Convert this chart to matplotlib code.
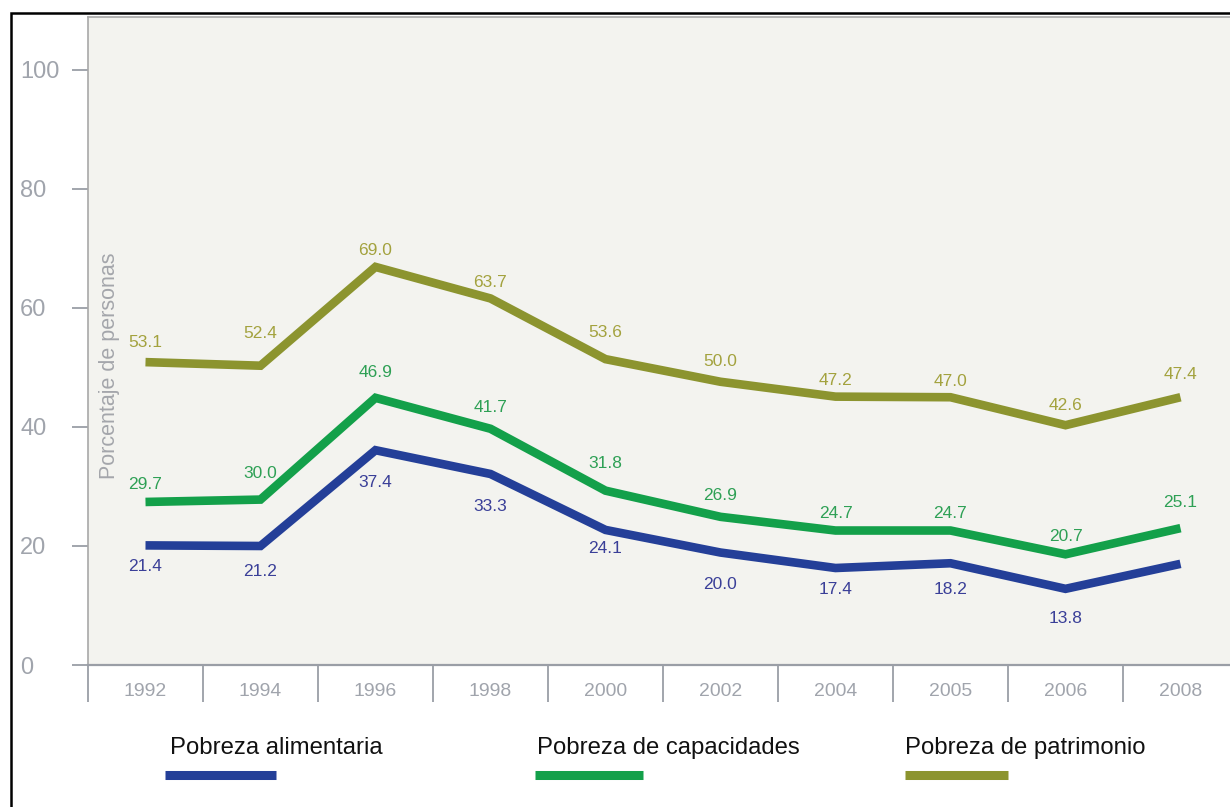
import numpy as np
import matplotlib
matplotlib.use("Agg")
import matplotlib.pyplot as plt
from matplotlib import font_manager
from matplotlib.lines import Line2D
from matplotlib.patches import Rectangle

# ── datos ─────────────────────────────────────────────────────────────────────
anios = ["1992", "1994", "1996", "1998", "2000", "2002", "2004", "2005", "2006", "2008"]

# posicion de las lineas
alimentaria = [20.1, 20.0, 36.1, 32.1, 22.7, 18.9, 16.3, 17.1, 12.8, 17.0]
capacidades = [27.4, 27.8, 44.9, 39.7, 29.3, 24.9, 22.6, 22.6, 18.6, 23.0]
patrimonio = [50.9, 50.3, 66.9, 61.6, 51.4, 47.6, 45.1, 45.0, 40.3, 45.0]

# etiquetas publicadas
etq_alimentaria = ["21.4", "21.2", "37.4", "33.3", "24.1", "20.0", "17.4", "18.2", "13.8", None]
etq_capacidades = ["29.7", "30.0", "46.9", "41.7", "31.8", "26.9", "24.7", "24.7", "20.7", "25.1"]
etq_patrimonio = ["53.1", "52.4", "69.0", "63.7", "53.6", "50.0", "47.2", "47.0", "42.6", "47.4"]

# desplazamiento vertical de cada etiqueta (px, + arriba)
dy_alimentaria = [-21, -26, -32, -33, -19, -32, -21, -26, -30, 0]
dy_capacidades = [17, 26, 25, 21, 27, 21, 17, 17, 18, 26]
dy_patrimonio = [20, 32, 16, 16, 27, 20, 16, 16, 20, 23]

nombres = ["Pobreza alimentaria", "Pobreza de capacidades", "Pobreza de patrimonio"]

# ── estilo ────────────────────────────────────────────────────────────────────
C_AZUL, C_VERDE, C_OLIVO = "#243f98", "#13a04a", "#8c942f"
T_AZUL, T_VERDE, T_OLIVO = "#3a3f98", "#2ea055", "#a3a23e"
GRIS = "#9a9ea6"

nombres_fuentes = {f.name for f in font_manager.fontManager.ttflist}
hay_narrow = "Liberation Sans Narrow" in nombres_fuentes
F_REG = "Liberation Sans"
F_NAR = "Liberation Sans Narrow" if hay_narrow else "Liberation Sans"
k = 1.0 if hay_narrow else 0.82

W, H = 1230, 807
fig = plt.figure(figsize=(W / 100, H / 100), dpi=100)
fig.patch.set_facecolor("white")

x0, y0, x1, y1 = 88, 665, 1238, 17
ax = fig.add_axes([x0 / W, 1 - y0 / H, (x1 - x0) / W, (y0 - y1) / H])
ax.set_facecolor("#f3f3ef")

xs = np.arange(len(anios))
series = [
    (alimentaria, etq_alimentaria, dy_alimentaria, C_AZUL, T_AZUL),
    (capacidades, etq_capacidades, dy_capacidades, C_VERDE, T_VERDE),
    (patrimonio, etq_patrimonio, dy_patrimonio, C_OLIVO, T_OLIVO),
]
for vals, etqs, dys, c, tc in series:
    ax.plot(xs, vals, color=c, lw=6.2, solid_joinstyle="miter",
            solid_capstyle="butt", zorder=3)
    for xi, v, e, d in zip(xs, vals, etqs, dys):
        if e is None:
            continue
        ax.annotate(e, xy=(xi, v), xytext=(0, d * 0.72), textcoords="offset points",
                    ha="center", va="center", fontsize=12.5, color=tc,
                    family=F_REG, zorder=4)

ax.set_xlim(-0.5, len(anios) - 0.5)
ax.set_ylim(0, 108.9)

# eje y
ax.set_yticks([0, 20, 40, 60, 80, 100])
ax.set_yticklabels(["0", "20", "40", "60", "80", "100"], family=F_REG,
                   fontsize=17, color="#a0a4ac", ha="left")
ax.tick_params(axis="y", length=11.5, width=1.3, color=GRIS, pad=37.4)

# eje x: separadores como ticks menores
ax.set_xticks(xs)
ax.set_xticklabels(anios, family=F_NAR, fontsize=17 * k, color="#a0a4ac")
ax.set_xticks(np.arange(-0.5, len(anios), 1.0), minor=True)
ax.tick_params(axis="x", which="major", length=0, pad=13)
ax.tick_params(axis="x", which="minor", length=26.6, width=1.3, color=GRIS)

for s in ["top", "left"]:
    ax.spines[s].set_color("#a8a8a8")
    ax.spines[s].set_linewidth(1.2)
ax.spines["bottom"].set_color(GRIS)
ax.spines["bottom"].set_linewidth(1.6)
ax.spines["right"].set_visible(False)

ax.text((109 - x0) / (x1 - x0), 50.3, "Porcentaje de personas", rotation=90,
        ha="center", va="center", fontsize=15.5, color="#a4a6ab", family=F_REG,
        transform=ax.get_yaxis_transform())

# leyenda manual
ley = [(170, 165, 276, C_AZUL), (537, 535, 643, C_VERDE), (905, 905, 1008, C_OLIVO)]
for nom, (tx, la, lb, c) in zip(nombres, ley):
    fig.text(tx / W, 1 - 748 / H, nom, ha="left", va="center", family=F_NAR,
             fontsize=21 * k, color="#111111")
    fig.add_artist(Line2D([la / W, lb / W], [1 - 774.5 / H] * 2, color=c, lw=6.5,
                          solid_capstyle="butt", transform=fig.transFigure))

# marco negro
fig.add_artist(Rectangle((10.5 / W, -0.2), 1.5, (H - 12.5) / H + 0.2,
                         transform=fig.transFigure, fill=False, ec="black", lw=1.8))

fig.savefig("out.png", dpi=100)
